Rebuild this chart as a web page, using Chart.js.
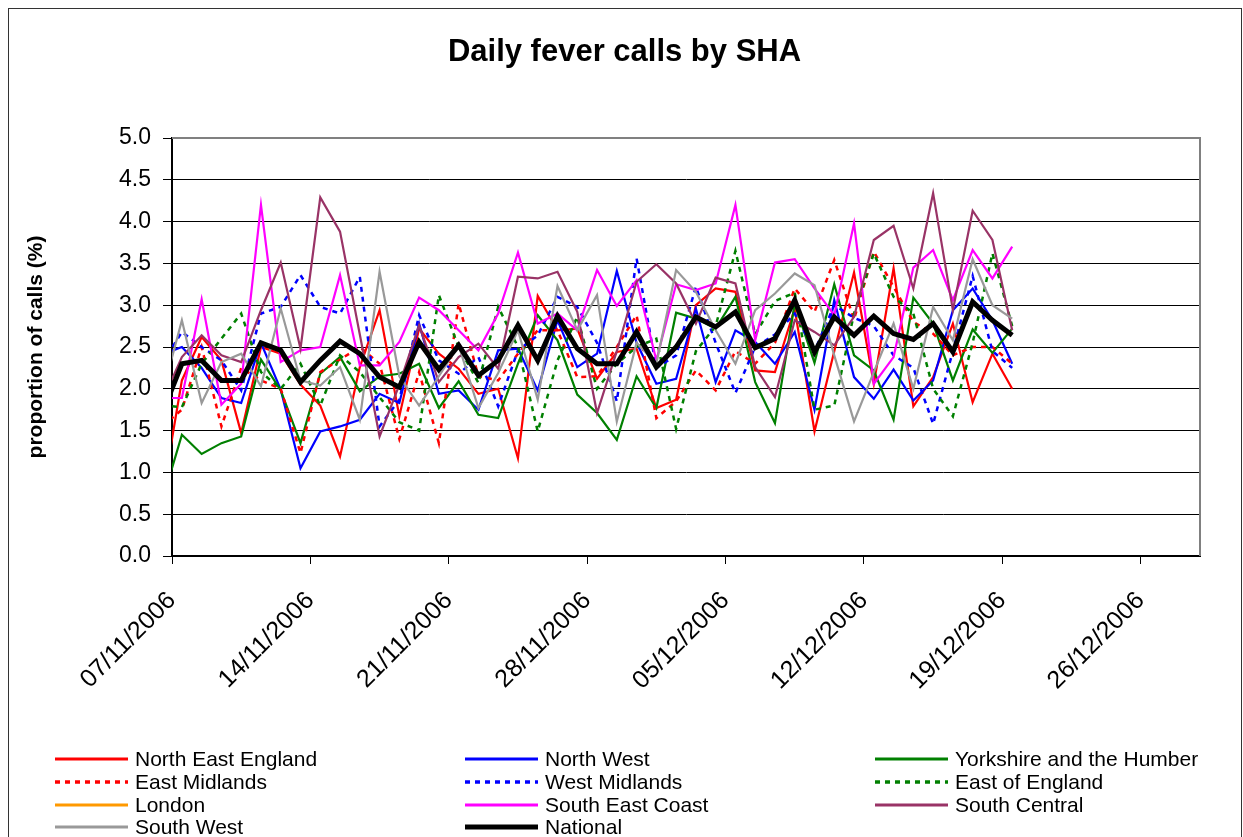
<!DOCTYPE html>
<html>
<head>
<meta charset="utf-8">
<title>Daily fever calls by SHA</title>
<script src="https://cdn.jsdelivr.net/npm/chart.js@4.4.1/dist/chart.umd.min.js"></script>
<style>
  body { margin: 0; background: #fff; }
  #wrap { width: 1243px; height: 837px; position: relative; }
</style>
</head>
<body>
<div id="wrap"><canvas id="myChart"></canvas></div>
<script>
const dates = [
  '06/11/2006', '07/11/2006', '08/11/2006', '09/11/2006', '10/11/2006', '11/11/2006',
  '12/11/2006', '13/11/2006', '14/11/2006', '15/11/2006', '16/11/2006', '17/11/2006',
  '18/11/2006', '19/11/2006', '20/11/2006', '21/11/2006', '22/11/2006', '23/11/2006',
  '24/11/2006', '25/11/2006', '26/11/2006', '27/11/2006', '28/11/2006', '29/11/2006',
  '30/11/2006', '01/12/2006', '02/12/2006', '03/12/2006', '04/12/2006', '05/12/2006',
  '06/12/2006', '07/12/2006', '08/12/2006', '09/12/2006', '10/12/2006', '11/12/2006',
  '12/12/2006', '13/12/2006', '14/12/2006', '15/12/2006', '16/12/2006', '17/12/2006',
  '18/12/2006', '19/12/2006',
];

const tickLabels = ['07/11/2006', '14/11/2006', '21/11/2006', '28/11/2006',
  '05/12/2006', '12/12/2006', '19/12/2006', '26/12/2006'];
const axisEnd = '29/12/2006';
const yTicks = [0, 0.5, 1, 1.5, 2, 2.5, 3, 3.5, 4, 4.5, 5];
const chartTitle = 'Daily fever calls by SHA';

const northEastEngland = [0.7, 2.1, 2.62, 2.34, 1.47, 2.5, 2.42, 2.05, 1.8, 1.19, 2.26, 2.94,
  1.67, 2.72, 2.42, 2.24, 1.94, 2.0, 1.17, 3.11, 2.7, 2.72, 2.12, 2.44, 2.48, 1.77, 1.87,
  3.0, 3.2, 3.16, 2.22, 2.2, 2.96, 1.49, 2.45, 3.39, 2.06, 3.44, 1.79, 2.14, 2.78, 1.84, 2.42, 2.0];
const northWest = [2.41, 2.5, 2.25, 1.89, 1.83, 2.55, 1.99, 1.05, 1.49, 1.55, 1.63, 1.94,
  1.83, 2.78, 1.94, 1.98, 1.75, 2.46, 2.48, 1.98, 2.82, 2.26, 2.42, 3.41, 2.55, 2.06, 2.12,
  2.96, 2.08, 2.7, 2.56, 2.3, 2.68, 1.75, 3.06, 2.14, 1.88, 2.23, 1.86, 2.1, 2.94, 3.2, 2.82, 2.3];
const yorkshire = [0.65, 1.45, 1.22, 1.35, 1.43, 2.35, 1.98, 1.35, 2.18, 2.38, 1.97, 2.15,
  2.18, 2.3, 1.77, 2.09, 1.69, 1.65, 2.3, 2.88, 2.58, 1.93, 1.71, 1.39, 2.15, 1.77, 2.91,
  2.84, 2.72, 3.1, 2.08, 1.59, 3.02, 2.31, 3.25, 2.4, 2.22, 1.63, 3.09, 2.78, 2.1, 2.71, 2.43, 2.72];
const eastMidlands = [1.55, 1.75, 2.5, 1.55, 2.25, 2.1, 2.0, 1.23, 2.2, 2.35, 2.5, 2.3,
  1.4, 2.2, 1.35, 3.02, 2.15, 2.1, 2.42, 2.7, 2.7, 2.14, 2.15, 2.5, 2.88, 1.65, 1.85,
  2.22, 1.98, 2.45, 2.3, 2.55, 3.2, 2.92, 3.54, 2.83, 3.64, 3.22, 2.8, 2.66, 2.4, 2.5, 2.5, 2.3];
const westMidlands = [2.3, 2.68, 2.5, 2.34, 1.98, 2.9, 2.98, 3.36, 2.98, 2.9, 3.34, 1.55,
  1.87, 2.88, 2.34, 2.18, 2.38, 1.79, 2.46, 2.64, 3.1, 2.98, 2.55, 1.85, 3.56, 2.25, 2.4,
  3.22, 2.55, 1.95, 2.5, 2.65, 2.9, 2.45, 3.0, 2.85, 2.75, 2.4, 2.25, 1.58, 2.45, 3.35, 2.45, 2.25];
const eastOfEngland = [1.8, 1.78, 2.3, 2.6, 2.9, 2.2, 2.0, 2.3, 1.8, 2.4, 2.2, 1.9,
  1.6, 1.5, 3.12, 2.5, 2.07, 2.98, 2.5, 1.49, 2.34, 2.86, 2.0, 2.3, 2.5, 2.6, 1.52,
  2.45, 2.75, 3.65, 2.65, 3.05, 3.15, 1.75, 1.8, 2.9, 3.62, 3.1, 2.9, 2.0, 1.67, 2.55, 3.62, 2.75];
const london = [];
const southEastCoast = [1.89, 1.89, 3.07, 1.81, 2.06, 4.2, 2.32, 2.46, 2.5, 3.36, 2.28, 2.28,
  2.56, 3.09, 2.94, 2.7, 2.46, 2.9, 3.63, 2.78, 2.9, 2.7, 3.42, 2.99, 3.3, 2.34, 3.25,
  3.18, 3.26, 4.2, 2.58, 3.51, 3.55, 3.2, 2.88, 3.98, 2.06, 2.38, 3.45, 3.66, 3.06, 3.66, 3.32, 3.7];
const southCentral = [1.85, 2.38, 2.64, 2.4, 2.32, 2.94, 3.51, 2.48, 4.29, 3.88, 2.65, 1.43,
  2.05, 2.76, 2.08, 2.38, 2.54, 2.24, 3.34, 3.32, 3.4, 2.92, 1.71, 2.45, 3.28, 3.49, 3.26,
  2.78, 3.33, 3.26, 2.26, 1.9, 2.82, 2.68, 2.52, 2.86, 3.78, 3.95, 3.2, 4.34, 2.94, 4.13, 3.78, 2.7];
const southWest = [1.93, 2.82, 1.83, 2.32, 2.42, 2.03, 2.96, 2.1, 2.04, 2.26, 1.63, 3.4,
  2.15, 1.8, 2.15, 2.52, 1.77, 2.19, 2.7, 1.87, 3.23, 2.7, 3.12, 1.61, 2.55, 2.3, 3.42,
  3.16, 2.7, 2.3, 2.94, 3.14, 3.38, 3.24, 2.4, 1.61, 2.2, 2.78, 2.0, 2.98, 2.58, 3.55, 3.0, 2.84];
const national = [1.7, 2.3, 2.34, 2.1, 2.1, 2.55, 2.46, 2.08, 2.34, 2.57, 2.42, 2.14,
  2.02, 2.56, 2.23, 2.52, 2.16, 2.34, 2.76, 2.34, 2.87, 2.48, 2.3, 2.3, 2.68, 2.26, 2.5,
  2.86, 2.74, 2.92, 2.49, 2.6, 3.06, 2.44, 2.86, 2.64, 2.87, 2.66, 2.59, 2.78, 2.44, 3.04, 2.82, 2.64];

const FONT = '"Liberation Sans", Arial, sans-serif';

const dayOf = (s) => {
  const [d, m, y] = s.split('/').map(Number);
  const [d0, m0, y0] = tickLabels[0].split('/').map(Number);
  return (Date.UTC(y, m - 1, d) - Date.UTC(y0, m0 - 1, d0)) / 864e5;
};

// values are daily figures, plotted at midday
const toPoints = (values) => values.map((v, i) => ({ x: dayOf(dates[i]) + 0.5, y: v }));

const dotted = [5, 5];
const series = [
  { label: 'North East England', values: northEastEngland, color: '#FF0000' },
  { label: 'North West', values: northWest, color: '#0000FF' },
  { label: 'Yorkshire and the Humber', values: yorkshire, color: '#008000' },
  { label: 'East Midlands', values: eastMidlands, color: '#FF0000', dash: dotted },
  { label: 'West Midlands', values: westMidlands, color: '#0000FF', dash: dotted },
  { label: 'East of England', values: eastOfEngland, color: '#008000', dash: dotted },
  { label: 'London', values: london, color: '#FF9900' },
  { label: 'South East Coast', values: southEastCoast, color: '#FF00FF' },
  { label: 'South Central', values: southCentral, color: '#993366' },
  { label: 'South West', values: southWest, color: '#999999' },
  { label: 'National', values: national, color: '#000000', width: 5 },
];

const chartFrame = {
  id: 'chartFrame',
  beforeDraw(chart) {
    const { ctx, width, height } = chart;
    ctx.save();
    ctx.fillStyle = '#fff';
    ctx.fillRect(0, 0, width, height);
    ctx.strokeStyle = '#333';
    ctx.lineWidth = 1;
    ctx.strokeRect(8.5, 8.5, width - 10, height + 10);
    // title centred on the whole chart, not only the plot
    ctx.fillStyle = '#000';
    ctx.font = 'bold 31px ' + FONT;
    ctx.textAlign = 'center';
    ctx.textBaseline = 'middle';
    ctx.fillText(chartTitle, width / 2 + 3, 52);
    ctx.restore();
  },
  beforeDatasetsDraw(chart) {
    const { ctx, chartArea: a } = chart;
    ctx.save();
    ctx.strokeStyle = '#808080';
    ctx.lineWidth = 2;
    ctx.beginPath();
    ctx.moveTo(a.left, a.top);
    ctx.lineTo(a.right, a.top);
    ctx.lineTo(a.right, a.bottom);
    ctx.stroke();
    ctx.restore();
  },
  afterDraw(chart) {
    // three column legend like the spreadsheet one
    const { ctx } = chart;
    const cols = [55, 465, 875];
    const rows = [759, 782, 805, 827];
    ctx.save();
    ctx.font = '21px ' + FONT;
    ctx.textBaseline = 'middle';
    ctx.fillStyle = '#000';
    chart.data.datasets.forEach((ds, i) => {
      const x = cols[i % 3];
      const y = rows[Math.floor(i / 3)];
      ctx.strokeStyle = ds.borderColor;
      ctx.lineWidth = ds.borderDash.length ? 3.5 : Math.max(ds.borderWidth, 3);
      ctx.setLineDash(ds.borderDash);
      ctx.beginPath();
      ctx.moveTo(x, y);
      ctx.lineTo(x + 73, y);
      ctx.stroke();
      ctx.setLineDash([]);
      ctx.fillText(ds.label, x + 80, y + 1);
    });
    ctx.restore();
  },
};

const ctx = document.getElementById('myChart');

new Chart(ctx, {
  type: 'line',
  data: {
    datasets: series.map((s, i) => ({
      label: s.label,
      data: toPoints(s.values),
      borderColor: s.color,
      backgroundColor: s.color,
      borderWidth: s.width || (s.dash ? 2.5 : 2.2),
      borderDash: s.dash || [],
      pointRadius: 0,
      tension: 0,
      order: -i,
    })),
  },
  options: {
    responsive: true,
    maintainAspectRatio: false,
    animation: false,
    events: [],
    layout: { padding: { left: 0, right: 43, top: 138, bottom: 111 } },
    plugins: {
      legend: { display: false },
      tooltip: { enabled: false },
      title: { display: false },
    },
    scales: {
      x: {
        type: 'linear',
        min: 0,
        max: dayOf(axisEnd),
        afterBuildTicks: (scale) => {
          scale.ticks = tickLabels.map((t) => ({ value: dayOf(t) }));
        },
        afterFit: (scale) => { scale.height = 170; },
        ticks: {
          autoSkip: false,
          minRotation: 45,
          maxRotation: 45,
          padding: 22,
          color: '#000',
          font: { family: FONT, size: 25 },
          callback: (v) => tickLabels.find((t) => dayOf(t) === v) || '',
        },
        grid: { drawOnChartArea: false, drawTicks: true, tickLength: 8, color: '#000' },
        border: { color: '#000', width: 2 },
      },
      y: {
        min: 0,
        max: 5,
        afterBuildTicks: (scale) => {
          scale.ticks = yTicks.map((v) => ({ value: v }));
        },
        afterFit: (scale) => { scale.width = 172; },
        ticks: {
          padding: 12,
          color: '#000',
          font: { family: FONT, size: 23 },
          callback: (v) => v.toFixed(1),
        },
        grid: { color: '#000', lineWidth: 1, tickLength: 9 },
        border: { color: '#000', width: 2 },
        title: {
          display: true,
          text: 'proportion of calls (%)',
          color: '#000',
          font: { family: FONT, size: 21, weight: 'bold' },
          padding: { top: 24, bottom: 0 },
        },
      },
    },
  },
  plugins: [chartFrame],
});
</script>
</body>
</html>
